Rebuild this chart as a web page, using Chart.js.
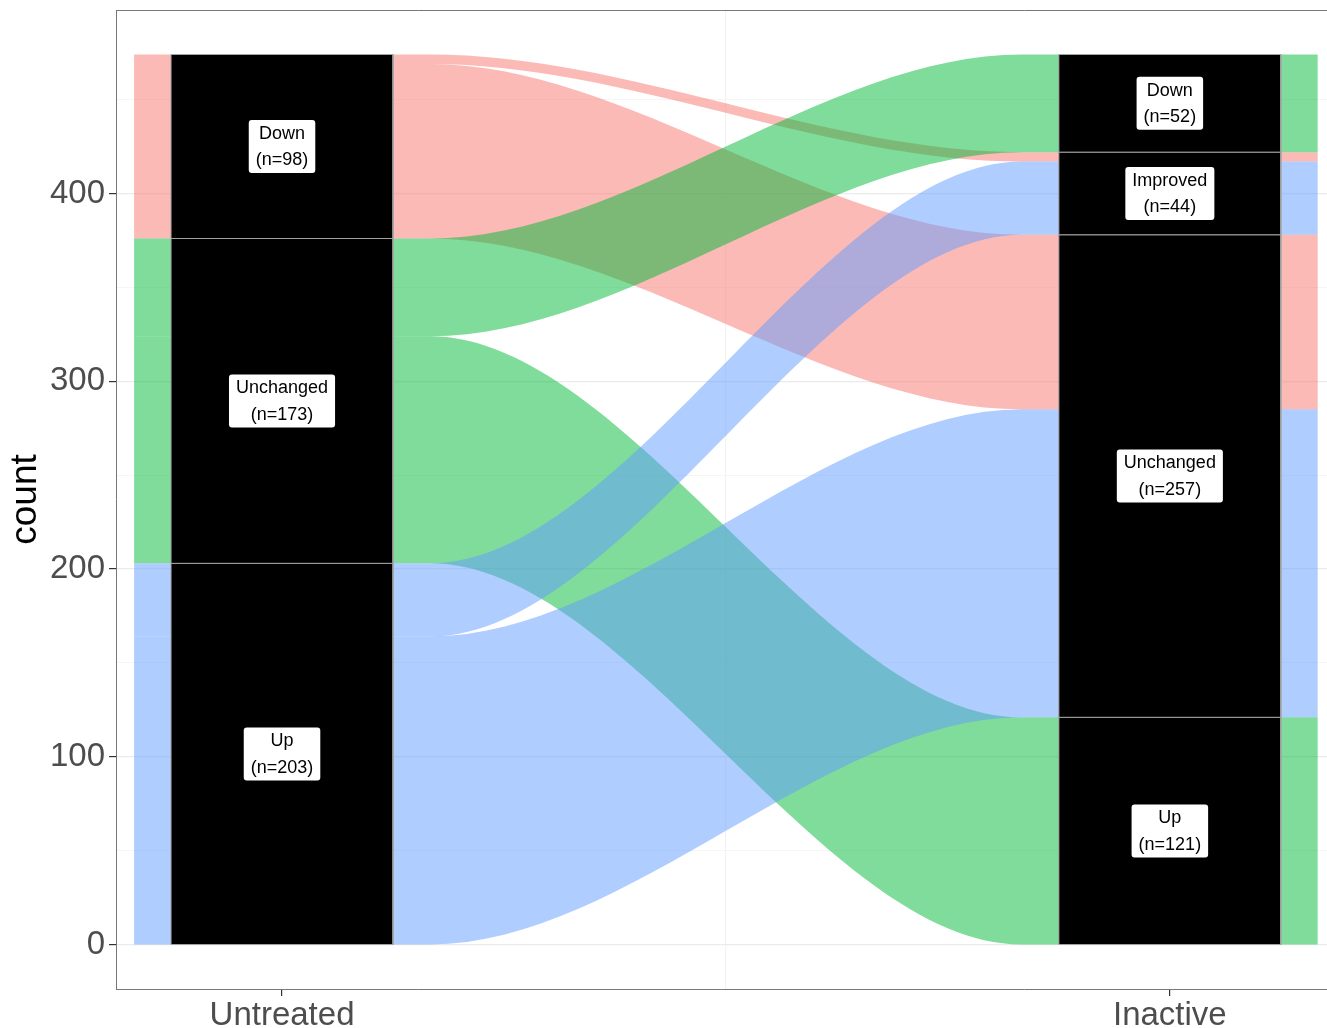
<!DOCTYPE html>
<html>
<head>
<meta charset="utf-8">
<script src="https://cdn.jsdelivr.net/npm/chart.js@4.4.1/dist/chart.umd.min.js"></script>
<style>
  html, body { margin: 0; padding: 0; background: #fff; }
  canvas { display: block; }
</style>
</head>
<body>
<canvas id="alluvial" width="1327" height="1028"></canvas>
<script>
// x positions of the two time points and their labels
const xLevels = [1, 2];
const xLabels = ['Untreated', 'Inactive'];
const xMinorTicks = [1.5];
const yMajorTicks = [0, 100, 200, 300, 400];
const yMinorTicks = [50, 150, 250, 350, 450];

// strata at each time point, listed top to bottom
const leftStrata = ['Down', 'Unchanged', 'Up'];
const rightStrata = ['Down', 'Improved', 'Unchanged', 'Up'];

// flows between the two time points
const flowFrom  = ['Down', 'Down', 'Unchanged', 'Unchanged', 'Up', 'Up'];
const flowTo    = ['Improved', 'Unchanged', 'Down', 'Up', 'Improved', 'Unchanged'];
const flowCount = [5, 93, 52, 121, 39, 164];

const fillColors = {
    Down: 'rgba(248, 118, 109, 0.5)',
    Unchanged: 'rgba(0, 186, 56, 0.5)',
    Up: 'rgba(97, 156, 255, 0.5)'
};
const drawOrder = { Down: 3, Unchanged: 2, Up: 1 }; // blue ends up on top

const flowWidth = 1 / 3;
const stratumWidth = 1 / 4;
const fontFamily = '"Liberation Sans", Arial, sans-serif';

const total = flowCount.reduce((a, b) => a + b, 0);

// Stack flows inside each stratum, ordered by the stratum at the other end
function stackAxis(strata, own, other, otherStrata) {
    const flowPos = [];
    const strataPos = [];
    let top = total;
    strata.forEach(s => {
        const idx = flowCount.map((n, i) => i)
            .filter(i => own[i] === s)
            .sort((a, b) => otherStrata.indexOf(other[a]) - otherStrata.indexOf(other[b]));
        const sTop = top;
        idx.forEach(i => {
            flowPos[i] = [top - flowCount[i], top];
            top -= flowCount[i];
        });
        strataPos.push({ name: s, lo: top, hi: sTop, n: sTop - top });
    });
    return { flowPos, strataPos };
}

const left = stackAxis(leftStrata, flowFrom, flowTo, rightStrata);
const right = stackAxis(rightStrata, flowTo, flowFrom, leftStrata);

const datasets = [];

// each flow = an upper edge filled down to its lower edge
flowCount.forEach((n, i) => {
    const [l0, l1] = left.flowPos[i];
    const [r0, r1] = right.flowPos[i];
    const edge = (yl, yr) => [
        { x: xLevels[0] - flowWidth / 2, y: yl },
        { x: xLevels[0] + flowWidth / 2, y: yl },
        { x: xLevels[1] - flowWidth / 2, y: yr },
        { x: xLevels[1] + flowWidth / 2, y: yr }
    ];
    const common = {
        borderColor: 'rgba(0,0,0,0)',
        borderWidth: 0,
        pointRadius: 0,
        cubicInterpolationMode: 'monotone',
        order: drawOrder[flowFrom[i]]
    };
    datasets.push({ ...common, data: edge(l1, r1), fill: '+1', backgroundColor: fillColors[flowFrom[i]] });
    datasets.push({ ...common, data: edge(l0, r0), fill: false });
});

// strata boxes drawn on top of the flows
const strataList = [[xLevels[0], left.strataPos], [xLevels[1], right.strataPos]];
strataList.forEach(([xv, list]) => {
    list.forEach(s => {
        const x0 = xv - stratumWidth / 2;
        const x1 = xv + stratumWidth / 2;
        datasets.push({
            data: [
                { x: x0, y: s.lo }, { x: x0, y: s.hi },
                { x: x1, y: s.hi }, { x: x1, y: s.lo }, { x: x0, y: s.lo }
            ],
            fill: 'shape',
            backgroundColor: '#000000',
            borderColor: '#a3a3a3',
            borderWidth: 1,
            pointRadius: 0,
            tension: 0,
            order: 0
        });
    });
});

// white label boxes in the middle of each stratum
const labelPlugin = {
    id: 'stratumLabels',
    afterDatasetsDraw(chart) {
        const { ctx, scales: { x, y } } = chart;
        ctx.save();
        ctx.font = '18px ' + fontFamily;
        ctx.textAlign = 'center';
        ctx.textBaseline = 'middle';
        strataList.forEach(([xv, list]) => {
            list.forEach(s => {
                const cx = x.getPixelForValue(xv);
                const cy = y.getPixelForValue((s.lo + s.hi) / 2);
                const lines = [s.name, '(n=' + s.n + ')'];
                const w = Math.max(...lines.map(t => ctx.measureText(t).width)) + 14;
                const h = 53;
                ctx.fillStyle = '#ffffff';
                ctx.beginPath();
                ctx.roundRect(cx - w / 2, cy - h / 2, w, h, 3);
                ctx.fill();
                ctx.fillStyle = '#000000';
                ctx.fillText(lines[0], cx, cy - 12.5);
                ctx.fillText(lines[1], cx, cy + 14);
            });
        });
        ctx.restore();
    }
};

// top edge of the panel border
const panelTop = {
    id: 'panelTop',
    afterDraw(chart) {
        const { ctx, chartArea } = chart;
        ctx.save();
        ctx.strokeStyle = '#777777';
        ctx.lineWidth = 1;
        ctx.beginPath();
        ctx.moveTo(chartArea.left, chartArea.top + 0.5);
        ctx.lineTo(chartArea.right, chartArea.top + 0.5);
        ctx.stroke();
        ctx.restore();
    }
};

const gridColor = minor => ctx => (minor(ctx.tick.value) ? '#f3f3f3' : '#ebebeb');

new Chart(document.getElementById('alluvial').getContext('2d'), {
    type: 'line',
    data: { datasets: datasets },
    plugins: [labelPlugin, panelTop],
    options: {
        responsive: false,
        animation: false,
        events: [],
        layout: { padding: { top: 10, right: 0, bottom: 0, left: 0 } },
        plugins: {
            legend: { display: false },
            tooltip: { enabled: false }
        },
        scales: {
            x: {
                type: 'linear',
                min: 0.813,
                max: 2.177,
                afterBuildTicks: s => {
                    s.ticks = [...xLevels, ...xMinorTicks].sort((a, b) => a - b).map(v => ({ value: v }));
                },
                afterFit: s => {
                    s.height = 39;
                    s.paddingLeft = 0;
                    s.paddingRight = 0;
                },
                grid: {
                    // only the minor line between the two time points shows
                    color: ctx => (xMinorTicks.includes(ctx.tick.value) ? '#f3f3f3' : 'rgba(0,0,0,0)'),
                    lineWidth: 1.2,
                    tickLength: 7,
                    tickColor: ctx => (xLevels.includes(ctx.tick.value) ? '#333333' : 'rgba(0,0,0,0)')
                },
                border: { color: '#777777', width: 1 },
                ticks: {
                    autoSkip: false,
                    maxRotation: 0,
                    padding: 0,
                    color: '#4d4d4d',
                    font: { size: 33, family: fontFamily },
                    callback: v => {
                        const i = xLevels.indexOf(v);
                        return i < 0 ? '' : xLabels[i];
                    }
                }
            },
            y: {
                type: 'linear',
                min: -23.7,
                max: 497.7,
                afterBuildTicks: s => {
                    s.ticks = [...yMajorTicks, ...yMinorTicks].sort((a, b) => a - b).map(v => ({ value: v }));
                },
                afterFit: s => {
                    s.width = 116;
                    s.paddingTop = 0;
                    s.paddingBottom = 0;
                },
                grid: {
                    color: gridColor(v => yMinorTicks.includes(v)),
                    lineWidth: ctx => (yMinorTicks.includes(ctx.tick.value) ? 0.8 : 1.2),
                    tickLength: 7,
                    tickColor: ctx => (yMajorTicks.includes(ctx.tick.value) ? '#333333' : 'rgba(0,0,0,0)')
                },
                border: { color: '#777777', width: 1 },
                ticks: {
                    autoSkip: false,
                    padding: 4,
                    color: '#4d4d4d',
                    font: { size: 33, family: fontFamily },
                    callback: v => (yMajorTicks.includes(v) ? String(v) : '')
                },
                title: {
                    display: true,
                    text: 'count',
                    color: '#000000',
                    font: { size: 37, family: fontFamily },
                    padding: { top: 4, bottom: 0 }
                }
            }
        }
    }
});
</script>
</body>
</html>
